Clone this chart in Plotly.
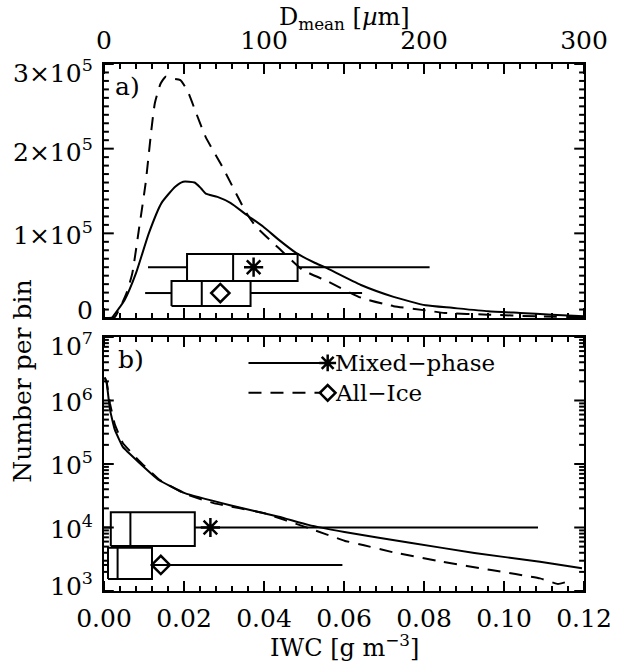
import math
import plotly.graph_objects as go

# ---------------- data: panel a (number per bin vs D_mean) ----------------
d_mean_mixed = [4.9, 12.8, 20, 28, 36, 44.5, 49.5, 56.6, 60.7, 63.6, 70.9, 79, 89, 99.4,
                109.5, 120, 132, 138, 160.6, 181, 201, 217.5, 240, 260, 280, 300]
n_mixed_a = [0, 0.21e5, 0.53e5, 1.0e5, 1.36e5, 1.55e5, 1.61e5, 1.60e5, 1.53e5, 1.47e5,
             1.43e5, 1.36e5, 1.22e5, 1.08e5, 0.92e5, 0.77e5, 0.65e5, 0.60e5, 0.39e5,
             0.25e5, 0.15e5, 0.12e5, 0.08e5, 0.06e5, 0.04e5, 0.02e5]

d_mean_ice = [3, 6.7, 14, 17.7, 22, 26, 29.6, 31.8, 35.4, 38.5, 41.5, 47.7, 52.5, 57.4,
              63.5, 71.5, 75, 89, 95, 109.5, 124, 140, 160.6, 181, 201, 213, 240, 270, 300]
n_ice_a = [0, 0.01e5, 0.29e5, 0.53e5, 1.07e5, 1.59e5, 2.22e5, 2.54e5, 2.77e5, 2.85e5,
           2.83e5, 2.81e5, 2.67e5, 2.43e5, 2.14e5, 1.87e5, 1.75e5, 1.24e5, 1.08e5,
           0.82e5, 0.57e5, 0.43e5, 0.24e5, 0.14e5, 0.09e5, 0.06e5, 0.04e5, 0.02e5, 0.01e5]

# box stats in D_mean: [whisker low, q1, median, q3, whisker high, mean]
box_a_mixed = [27.5, 51.9, 80.7, 121.0, 203.5, 93.5]
box_a_ice = [25.7, 42.2, 61.1, 91.6, 161.3, 72.7]
# vertical placement of the boxes (number per bin): [bottom, centre, top]
boxpos_a_mixed = [0.437e5, 0.60e5, 0.755e5]
boxpos_a_ice = [0.142e5, 0.295e5, 0.437e5]

# ---------------- data: panel b (number per bin vs IWC) ----------------
iwc_mixed = [0.0002, 0.00066, 0.0015, 0.0027, 0.0047, 0.0088, 0.0137, 0.0202, 0.0315,
             0.0437, 0.0511, 0.0601, 0.0765, 0.0926, 0.109, 0.1195]
n_mixed_b = [2.3e6, 1.9e6, 7.1e5, 3.47e5, 1.86e5, 1.05e5, 5.6e4, 3.47e4, 2.24e4,
             1.48e4, 1.1e4, 8.5e3, 5.75e3, 3.98e3, 2.88e3, 2.29e3]

iwc_ice = [0.0002, 0.00066, 0.0015, 0.0027, 0.0047, 0.0088, 0.0137, 0.0202, 0.0276,
           0.0398, 0.0511, 0.0601, 0.065, 0.0723, 0.0846, 0.0968, 0.109, 0.1135, 0.116, 0.117]
n_ice_b = [2.3e6, 1.95e6, 8.9e5, 4.2e5, 2.14e5, 1.12e5, 5.75e4, 3.4e4, 2.4e4, 1.7e4,
           9.8e3, 6.2e3, 5.25e3, 4.07e3, 2.88e3, 2.14e3, 1.58e3, 1.29e3, 1.41e3, 1.45e3]

# box stats in IWC: [whisker low, q1, median, q3, whisker high, mean]
box_b_mixed = [0.0, 0.0017, 0.0066, 0.0227, 0.1085, 0.0266]
box_b_ice = [0.0, 0.0010, 0.0034, 0.0120, 0.0596, 0.0142]
boxpos_b_mixed = [5.1e3, 1.0e4, 1.74e4]
boxpos_b_ice = [1.55e3, 2.57e3, 4.8e3]

# tick labels
na_ticks = [0, 1e5, 2e5, 3e5]
na_ticktext = ["0", "1×10<sup>5</sup>", "2×10<sup>5</sup>", "3×10<sup>5</sup>"]
nb_ticktext = ["10<sup>3</sup>", "10<sup>4</sup>", "10<sup>5</sup>", "10<sup>6</sup>", "10<sup>7</sup>"]
nb_logs = [3, 4, 5, 6, 7]

series_names = ["Mixed−phase", "All−Ice"]

FONT = "DejaVu Serif"
FS = 25
K = "black"
LW = 2
DASH = "13px,9px"

# plot-area geometry (pixels) used for tick-mark lengths
W = 624
H = 666
ML, MR, MT, MB = 104, 29, 64, 75
PW = W - ML - MR
PH = H - MT - MB
DOM_A = [0.518, 1.0]
DOM_B = [0.0, 0.482]
PANEL_H = (DOM_B[1] - DOM_B[0]) * PH

fig = go.Figure()


def box_paths(stats, pos):
    wlo, q1, med, q3, whi, mean = stats
    lo, c, hi = pos
    bx = [q1, q3, q3, q1, q1, None, med, med, None, wlo, q1, None, q3, whi]
    by = [lo, lo, hi, hi, lo, None, lo, hi, None, c, c, None, c, c]
    return bx, by


# panel a curves
fig.add_trace(go.Scatter(x=d_mean_mixed, y=n_mixed_a, xaxis="x2", yaxis="y2", mode="lines",
                         line=dict(color=K, width=LW, shape="spline", smoothing=0.5)))
fig.add_trace(go.Scatter(x=d_mean_ice, y=n_ice_a, xaxis="x2", yaxis="y2", mode="lines",
                         line=dict(color=K, width=LW, dash=DASH, shape="spline", smoothing=0.5)))
for stats, pos, sym in [(box_a_mixed, boxpos_a_mixed, "asterisk-open"),
                        (box_a_ice, boxpos_a_ice, "diamond-open")]:
    bx, by = box_paths(stats, pos)
    fig.add_trace(go.Scatter(x=bx, y=by, xaxis="x2", yaxis="y2", mode="lines",
                             line=dict(color=K, width=LW)))
    fig.add_trace(go.Scatter(x=[stats[5]], y=[pos[1]], xaxis="x2", yaxis="y2", mode="markers",
                             marker=dict(symbol=sym, size=16 if sym.startswith("a") else 14,
                                         color=K, line=dict(color=K, width=2.5))))

# panel b curves
fig.add_trace(go.Scatter(x=iwc_mixed, y=n_mixed_b, xaxis="x", yaxis="y", mode="lines",
                         line=dict(color=K, width=LW, shape="spline", smoothing=0.3)))
fig.add_trace(go.Scatter(x=iwc_ice, y=n_ice_b, xaxis="x", yaxis="y", mode="lines",
                         line=dict(color=K, width=LW, dash=DASH, shape="spline", smoothing=0.3)))
for stats, pos, sym in [(box_b_mixed, boxpos_b_mixed, "asterisk-open"),
                        (box_b_ice, boxpos_b_ice, "diamond-open")]:
    bx, by = box_paths(stats, pos)
    fig.add_trace(go.Scatter(x=bx, y=by, xaxis="x", yaxis="y", mode="lines",
                             line=dict(color=K, width=LW)))
    fig.add_trace(go.Scatter(x=[stats[5]], y=[pos[1]], xaxis="x", yaxis="y", mode="markers",
                             marker=dict(symbol=sym, size=16 if sym.startswith("a") else 14,
                                         color=K, line=dict(color=K, width=2.5))))

# legend (drawn on an overlay axis spanning panel b, range 0..1)
leg_rows = [0.898, 0.78]
leg_dash = ["solid", DASH]
leg_sym = ["asterisk-open", "diamond-open"]
for i in range(2):
    fig.add_trace(go.Scatter(x=[0.301, 0.454], y=[leg_rows[i]] * 2, xaxis="x3", yaxis="y3",
                             mode="lines", line=dict(color=K, width=LW, dash=leg_dash[i])))
    fig.add_trace(go.Scatter(x=[0.466], y=[leg_rows[i]], xaxis="x3", yaxis="y3", mode="markers",
                             marker=dict(symbol=leg_sym[i], size=14 if i == 0 else 12, color=K,
                                         line=dict(color=K, width=2.5))))
    fig.add_annotation(x=0.478, y=leg_rows[i], xref="x3", yref="y3", text=series_names[i],
                       showarrow=False, xanchor="left", yanchor="middle",
                       font=dict(family=FONT, size=23, color=K))

# ---- tick marks inside all four edges of both panels (overlay axes 0..1) ----
MAJ, MIN_ = 10, 5


def edge_ticks(y_fracs_major_every, n_y, log_decades=None):
    tx, ty = [], []
    # x ticks: 6 major intervals, 5 minor per interval
    for i in range(31):
        f = i / 30
        ln = (MAJ if i % 5 == 0 else MIN_) / PANEL_H
        tx += [f, f, None, f, f, None]
        ty += [0, ln, None, 1, 1 - ln, None]
    fr = []
    if log_decades:
        for d in range(log_decades):
            for k in range(1, 10):
                fr.append(((d + math.log10(k)) / log_decades, k == 1))
        fr.append((1.0, True))
    else:
        for i in range(n_y + 1):
            fr.append((i / n_y, i % y_fracs_major_every == 0))
    for f, major in fr:
        ln = (MAJ if major else MIN_) / PW
        tx += [0, ln, None, 1, 1 - ln, None]
        ty += [f, f, None, f, f, None]
    return tx, ty


tax, tay = edge_ticks(10, 30)
fig.add_trace(go.Scatter(x=tax, y=tay, xaxis="x4", yaxis="y4", mode="lines", cliponaxis=False,
                         line=dict(color=K, width=2)))
tbx, tby = edge_ticks(None, None, log_decades=4)
fig.add_trace(go.Scatter(x=tbx, y=tby, xaxis="x3", yaxis="y3", mode="lines", cliponaxis=False,
                         line=dict(color=K, width=2)))

axis_common = dict(showline=True, linecolor=K, linewidth=2, mirror=True, ticks="",
                   showgrid=False, zeroline=False,
                   tickfont=dict(family=FONT, size=FS, color=K))

fig.update_layout(
    width=W, height=H,
    margin=dict(l=ML, r=MR, t=MT, b=MB),
    paper_bgcolor="white", plot_bgcolor="white",
    showlegend=False,
    xaxis=dict(domain=[0, 1], range=[0, 0.12], anchor="y", tickmode="linear", tick0=0,
               dtick=0.02, tickformat=".2f", ticklabelstandoff=4, **axis_common),
    yaxis=dict(domain=DOM_B, type="log", range=[3, 7], anchor="x", showticklabels=False,
               **axis_common),
    xaxis2=dict(domain=[0, 1], range=[0, 300], anchor="y2", side="top", tickmode="linear",
                tick0=0, dtick=100, ticklabelstandoff=3, **axis_common),
    yaxis2=dict(domain=DOM_A, range=[0, 3e5], anchor="x2", showticklabels=False,
                **axis_common),
    xaxis3=dict(domain=[0, 1], range=[0, 1], anchor="y3", visible=False, overlaying="x"),
    yaxis3=dict(domain=DOM_B, range=[0, 1], anchor="x3", visible=False, overlaying="y"),
    xaxis4=dict(domain=[0, 1], range=[0, 1], anchor="y4", visible=False, overlaying="x2"),
    yaxis4=dict(domain=DOM_A, range=[0, 1], anchor="x4", visible=False, overlaying="y2"),
)

# y tick labels (end labels nudged inward, as in the original)
na_shift = [8, 0, -2, -7]
for v, t, s in zip(na_ticks, na_ticktext, na_shift):
    fig.add_annotation(x=0, y=v, xref="x2 domain", yref="y2", text=t, showarrow=False,
                       xanchor="right", yanchor="middle", xshift=-9, yshift=s,
                       font=dict(family=FONT, size=FS, color=K))
nb_shift = [6, 0, 0, 0, -8]
for lv, t, s in zip(nb_logs, nb_ticktext, nb_shift):
    fig.add_annotation(x=0, y=lv, xref="x domain", yref="y", text=t,
                       showarrow=False, xanchor="right", yanchor="middle", xshift=-9, yshift=s,
                       font=dict(family=FONT, size=FS, color=K))

# axis titles
fig.add_annotation(x=0.5, y=1.1195, xref="paper", yref="paper",
                   text="D<sub>mean</sub> [<i>µ</i>m]", showarrow=False,
                   xanchor="center", yanchor="top", font=dict(family=FONT, size=24, color=K))
fig.add_annotation(x=0.5, y=-0.139, xref="paper", yref="paper",
                   text="IWC [g m<sup>−3</sup>]", showarrow=False,
                   xanchor="center", yanchor="bottom", font=dict(family=FONT, size=24, color=K))
fig.add_annotation(x=-0.17, y=0.398, xref="paper", yref="paper", text="Number per bin",
                   textangle=-90, showarrow=False, xanchor="center", yanchor="middle",
                   font=dict(family=FONT, size=FS, color=K))

fig.add_annotation(x=0.018, y=0.975, xref="x2 domain", yref="y2 domain", text="a)",
                   showarrow=False, xanchor="left", yanchor="top",
                   font=dict(family=FONT, size=FS, color=K))
fig.add_annotation(x=0.026, y=0.975, xref="x domain", yref="y domain", text="b)",
                   showarrow=False, xanchor="left", yanchor="top",
                   font=dict(family=FONT, size=FS, color=K))

fig.write_html("out.html", config={"displayModeBar": False},
               post_script="document.body.style.margin='0';document.body.style.overflow='hidden';")
